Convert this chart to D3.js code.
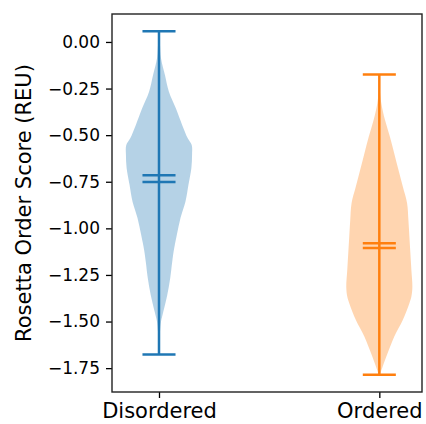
<!DOCTYPE html>
<html>
<head>
<meta charset="utf-8">
<script src="https://cdn.jsdelivr.net/npm/d3@7"></script>
<style>
  html, body { margin: 0; padding: 0; background: #fff; }
  svg { display: block; }
  text { font-family: "DejaVu Sans", sans-serif; fill: #000; }
</style>
</head>
<body>
<svg id="chart" width="426" height="424"></svg>
<script>
// ---- data ----
const categories = ["Disordered", "Ordered"];
const positions = [1, 2];
const colors = ["#1f77b4", "#ff7f0e"];
const yTicks = [0, -0.25, -0.5, -0.75, -1.0, -1.25, -1.5, -1.75];
const yLabel = "Rosetta Order Score (REU)";

// extremes and centre statistics
const mins = [-1.677, -1.785];
const maxs = [0.057, -0.175];
const means = [-0.715, -1.080];
const medians = [-0.751, -1.105];

// KDE profile: value and relative density (1 = widest)
const disValues = [0.057, -0.016, -0.087, -0.177, -0.267, -0.356, -0.445, -0.517, -0.553, -0.606, -0.676, -0.767, -0.857, -0.944, -1.035, -1.116, -1.179, -1.266, -1.357, -1.447, -1.501, -1.555, -1.677];
const disDensity = [0.0, 0.03, 0.06, 0.18, 0.30, 0.51, 0.70, 0.87, 0.99, 1.0, 0.98, 0.89, 0.80, 0.65, 0.54, 0.45, 0.40, 0.34, 0.25, 0.13, 0.06, 0.03, 0.0];
const ordValues = [-0.175, -0.258, -0.329, -0.418, -0.508, -0.597, -0.687, -0.776, -0.865, -0.955, -1.045, -1.134, -1.223, -1.313, -1.366, -1.402, -1.492, -1.581, -1.670, -1.742, -1.785];
const ordDensity = [0.0, 0.015, 0.06, 0.17, 0.32, 0.45, 0.58, 0.71, 0.84, 0.88, 0.91, 0.94, 0.97, 1.0, 0.97, 0.91, 0.71, 0.45, 0.25, 0.10, 0.015];

const profiles = [
  disValues.map((v, i) => ({ v, d: disDensity[i] })),
  ordValues.map((v, i) => ({ v, d: ordDensity[i] }))
];

// ---- layout ----
const svg = d3.select("#chart");
const mLeft = 112, mRight = 422, mTop = 14, mBottom = 392;
const violinWidth = 0.3;

const x = d3.scaleLinear().domain([0.7867, 2.1937]).range([mLeft, mRight]);
const y = d3.scaleLinear().domain([0.150, -1.878]).range([mTop, mBottom]);

// violins
profiles.forEach((prof, i) => {
  const p = positions[i];
  const area = d3.area()
    .y(d => y(d.v))
    .x0(d => x(p - d.d * violinWidth / 2))
    .x1(d => x(p + d.d * violinWidth / 2))
    .curve(d3.curveCatmullRom);
  svg.append("path")
    .datum(prof)
    .attr("d", area)
    .attr("fill", colors[i])
    .attr("fill-opacity", 0.33)
    .attr("stroke", "none");
});

// stats lines
const capHalf = violinWidth / 4;
positions.forEach((p, i) => {
  const g = svg.append("g").attr("stroke", colors[i]).attr("stroke-width", 2.5);
  g.append("line")
    .attr("x1", x(p)).attr("x2", x(p))
    .attr("y1", y(maxs[i])).attr("y2", y(mins[i]));
  [maxs[i], mins[i], means[i], medians[i]].forEach(v => {
    g.append("line")
      .attr("x1", x(p - capHalf)).attr("x2", x(p + capHalf))
      .attr("y1", y(v)).attr("y2", y(v));
  });
});

// axes
const yAxis = d3.axisLeft(y).tickValues(yTicks).tickSize(6).tickPadding(6)
  .tickFormat(d => d3.format(".2f")(d).replace("-", "\u2212"));
const gy = svg.append("g").attr("transform", `translate(${mLeft},0)`).call(yAxis);
gy.select(".domain").remove();
gy.selectAll(".tick line").attr("stroke", "#000").attr("stroke-width", 1.3);
gy.selectAll(".tick text").attr("font-size", 17).attr("font-family", "DejaVu Sans");

const xAxis = d3.axisBottom(x).tickValues(positions).tickSize(6).tickPadding(5)
  .tickFormat((d, i) => categories[i]);
const gx = svg.append("g").attr("transform", `translate(0,${mBottom})`).call(xAxis);
gx.select(".domain").remove();
gx.selectAll(".tick line").attr("stroke", "#000").attr("stroke-width", 1.3);
gx.selectAll(".tick text").attr("font-size", 21).attr("font-family", "DejaVu Sans");

// frame
svg.append("rect")
  .attr("x", mLeft).attr("y", mTop)
  .attr("width", mRight - mLeft).attr("height", mBottom - mTop)
  .attr("fill", "none").attr("stroke", "#222").attr("stroke-width", 1.4);

// y label
svg.append("text")
  .attr("transform", `translate(31,${(mTop + mBottom) / 2}) rotate(-90)`)
  .attr("text-anchor", "middle")
  .attr("font-size", 21)
  .text(yLabel);
</script>
</body>
</html>
